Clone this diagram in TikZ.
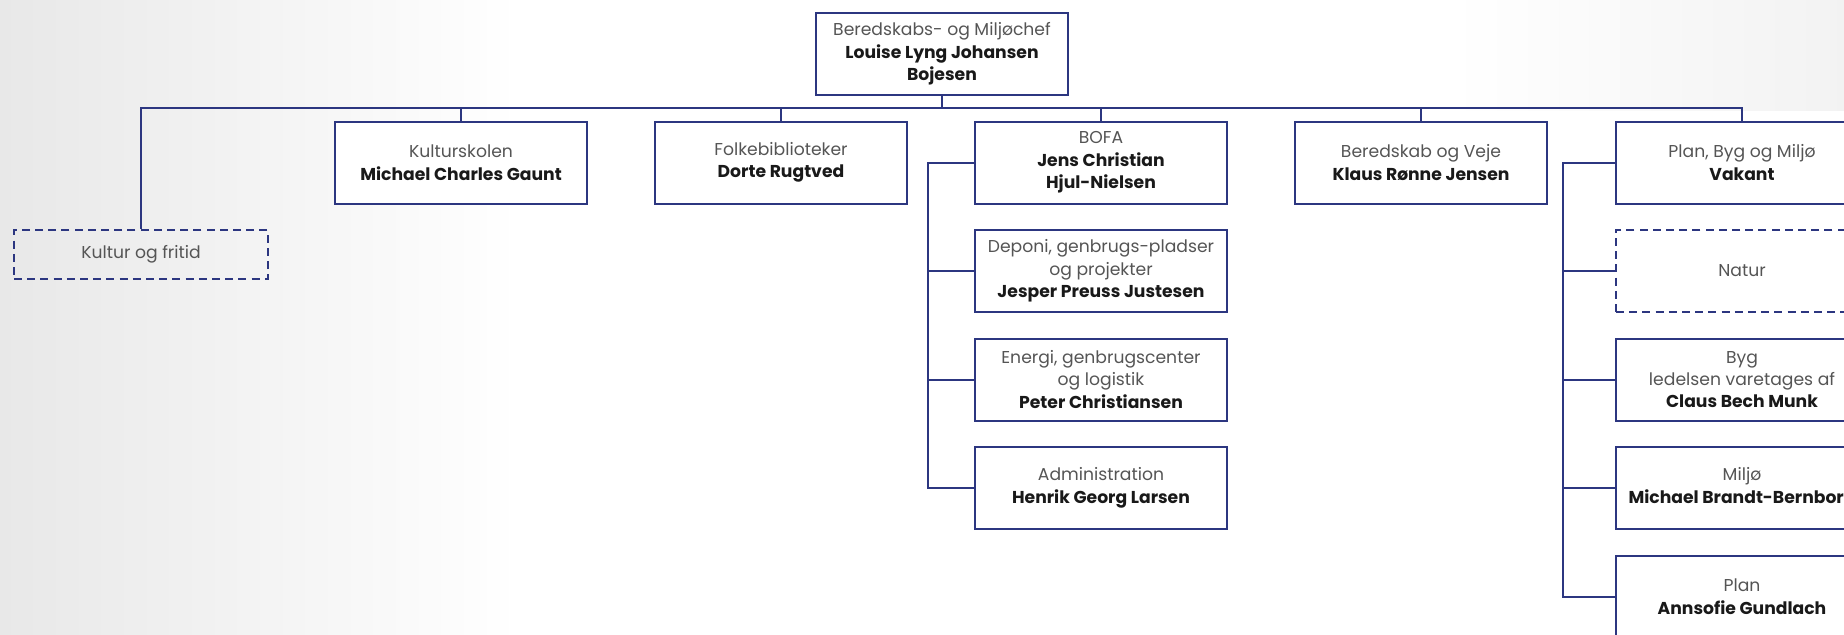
\documentclass[tikz,border=0pt]{standalone}
\usepackage{fontspec}
\setmainfont{Poppins}
\definecolor{navy}{RGB}{44,54,128}
\definecolor{txtgrey}{RGB}{85,85,85}
\definecolor{txtdark}{RGB}{25,25,25}
\newcommand{\who}[1]{\textbf{\color{txtdark}#1}}
\tikzstyle{unit}=[draw=navy, line width=1pt, fill=white, minimum width=126pt, minimum height=41pt, align=center, inner sep=1pt, text=txtgrey, font=\fontsize{8.6}{11.2}\selectfont]
\tikzstyle{vacant}=[unit, fill=none, dash pattern=on 4pt off 2.6pt]
\tikzstyle{link}=[draw=navy, line width=1pt]

\begin{document}
\begin{tikzpicture}[x=0.5pt, y=-0.5pt]

\useasboundingbox (0,0) rectangle (1844,634);
\clip (0,0) rectangle (1844,634);
\fill[white] (0,0) rectangle (1844,634);
\shade[left color=black!9, right color=white] (0,0) rectangle (520,634);
\shade[left color=white, right color=black!5] (1450,0) rectangle (1844,110);

\node[unit] (chef) at (942,54) {Beredskabs- og Miljøchef\\\who{Louise Lyng Johansen}\\\who{Bojesen}};
\coordinate (bus) at (0,108);

\node[vacant, minimum height=24.5pt, minimum width=127pt] (kf) at (141,254.5) {Kultur og fritid};
\node[unit] (ks) at (461,162.5) {Kulturskolen\\\who{Michael Charles Gaunt}};
\node[unit] (fb) at (781,162.5) {Folkebiblioteker\\\who{Dorte Rugtved}};
\node[unit] (bofa) at (1101,162.5) {BOFA\\\who{Jens Christian}\\\who{Hjul-Nielsen}};
\node[unit] (bv) at (1421,162.5) {Beredskab og Veje\\\who{Klaus Rønne Jensen}};
\node[unit] (pbm) at (1742,162.5) {Plan, Byg og Miljø\\\who{Vakant}};

% BOFA
\node[unit] (dep) at (1101,271) {Deponi, genbrugs-pladser\\og projekter\\\who{Jesper Preuss Justesen}};
\node[unit] (energi) at (1101,379.5) {Energi, genbrugscenter\\og logistik\\\who{Peter Christiansen}};
\node[unit] (adm) at (1101,488) {Administration\\\who{Henrik Georg Larsen}};
\coordinate (bofarail) at (928,0);

% Plan, Byg og Miljoe
\node[vacant] (natur) at (1742,271) {Natur};
\node[unit] (byg) at (1742,379.5) {Byg\\ledelsen varetages af\\\who{Claus Bech Munk}};
\node[unit] (miljo) at (1742,488) {Miljø\\\who{Michael Brandt-Bernborg}};
\node[unit] (plan) at (1742,596.5) {Plan\\\who{Annsofie Gundlach}};
\coordinate (pbmrail) at (1563,0);

\draw[link] (chef.south) -- (chef.south |- bus) -| (kf.north);
\draw[link] (chef.south) -- (chef.south |- bus) -| (ks.north);
\draw[link] (chef.south) -- (chef.south |- bus) -| (fb.north);
\draw[link] (chef.south) -- (chef.south |- bus) -| (bofa.north);
\draw[link] (chef.south) -- (chef.south |- bus) -| (bv.north);
\draw[link] (chef.south) -- (chef.south |- bus) -| (pbm.north);

\draw[link] (bofa.west) -- (bofa.west -| bofarail) |- (adm.west);
\draw[link] (dep.west) -- (dep.west -| bofarail);
\draw[link] (energi.west) -- (energi.west -| bofarail);

\draw[link] (pbm.west) -- (pbm.west -| pbmrail) |- (plan.west);
\draw[link] (natur.west) -- (natur.west -| pbmrail);
\draw[link] (byg.west) -- (byg.west -| pbmrail);
\draw[link] (miljo.west) -- (miljo.west -| pbmrail);

\end{tikzpicture}
\end{document}
